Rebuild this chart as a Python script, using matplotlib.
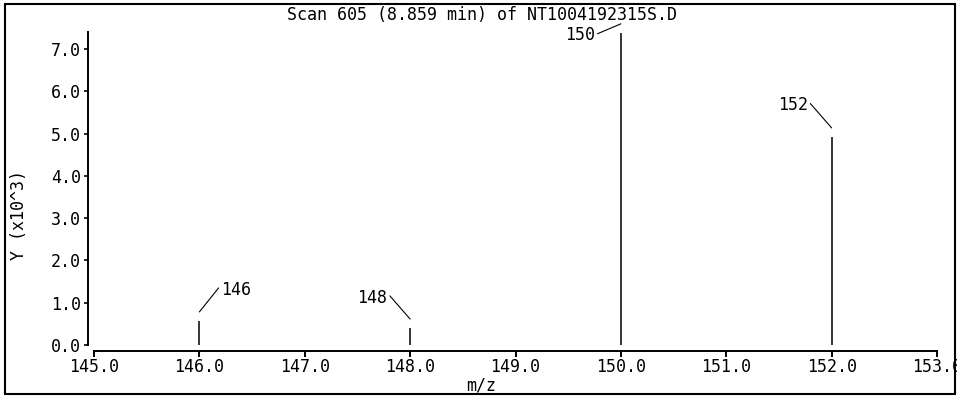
import matplotlib
matplotlib.use("Agg")
import matplotlib.pyplot as plt
import matplotlib.transforms as mtransforms
from matplotlib.patches import Rectangle

# spectrum data (intensity in thousands)
mz = [146.0, 148.0, 150.0, 152.0]
intensity = [0.57, 0.40, 7.38, 4.92]
peak_labels = ["146", "148", "150", "152"]

x_ticks = [145.0, 146.0, 147.0, 148.0, 149.0, 150.0, 151.0, 152.0, 153.0]
y_ticks = [0.0, 1.0, 2.0, 3.0, 4.0, 5.0, 6.0, 7.0]

title = "Scan 605 (8.859 min) of NT1004192315S.D"

# label placement (pixels): text offset from leader end, ha, relpos
label_style = {
    "146": ((22, 22), "left", (0, 0.8)),
    "148": ((-23, 21), "right", (1, 0.8)),
    "150": ((-26, -11), "right", (1, 0.5)),
    "152": ((-24, 23), "right", (1, 0.75)),
}

plt.rcParams['font.family'] = ['DejaVu Sans Mono']
fs = 12

fig = plt.figure(figsize=(9.57, 3.96), dpi=100)
ax = fig.add_axes([94 / 957, 51 / 396, 843 / 957, 313 / 396])

ax.vlines(mz, 0, intensity, colors='black', lw=1.1)

# leader lines + labels
gap = mtransforms.ScaledTranslation(0, 9 / 100, fig.dpi_scale_trans)
for m, h, lab in zip(mz, intensity, peak_labels):
    off, ha, rp = label_style[lab]
    ax.annotate(lab, xy=(m, h), xycoords=ax.transData + gap,
                xytext=off, textcoords='offset pixels', ha=ha, va='center',
                fontsize=fs,
                arrowprops=dict(arrowstyle='-', lw=0.8, color='black',
                                shrinkA=0, shrinkB=0, relpos=rp))

ax.set_xlim(145, 153)
ax.set_ylim(0, 7.4)
ax.set_xticks(x_ticks)
ax.set_xticklabels([f"{v:.1f}" for v in x_ticks])
ax.set_yticks(y_ticks)
ax.set_yticklabels([f"{v:.1f}" for v in y_ticks])

for s in ['top', 'right']:
    ax.spines[s].set_visible(False)
ax.spines['left'].set_position(('outward', 4.3))
ax.spines['bottom'].set_position(('outward', 4.3))
ax.spines['left'].set_linewidth(1.4)
ax.spines['bottom'].set_linewidth(1.4)
ax.tick_params(axis='x', direction='out', length=4, width=1.4, labelsize=fs, pad=1)
ax.tick_params(axis='y', direction='out', length=3, width=1.2, labelsize=fs, pad=2)
ax.patch.set_visible(False)

fig.text(482 / 957, 1 - 15 / 396, title, ha='center', va='center', fontsize=fs)
fig.text(481 / 957, 1 - 385 / 396, "m/z", ha='center', va='center', fontsize=fs)
fig.text(19 / 957, 1 - 215 / 396, "Y (x10^3)", ha='center', va='center',
         rotation=90, fontsize=fs)

# outer frame
fig.patches.append(Rectangle((5 / 957, 2 / 396), 950 / 957, 390 / 396,
                             transform=fig.transFigure, fill=False,
                             edgecolor='black', lw=1.5))

fig.savefig("out.png", dpi=100)
